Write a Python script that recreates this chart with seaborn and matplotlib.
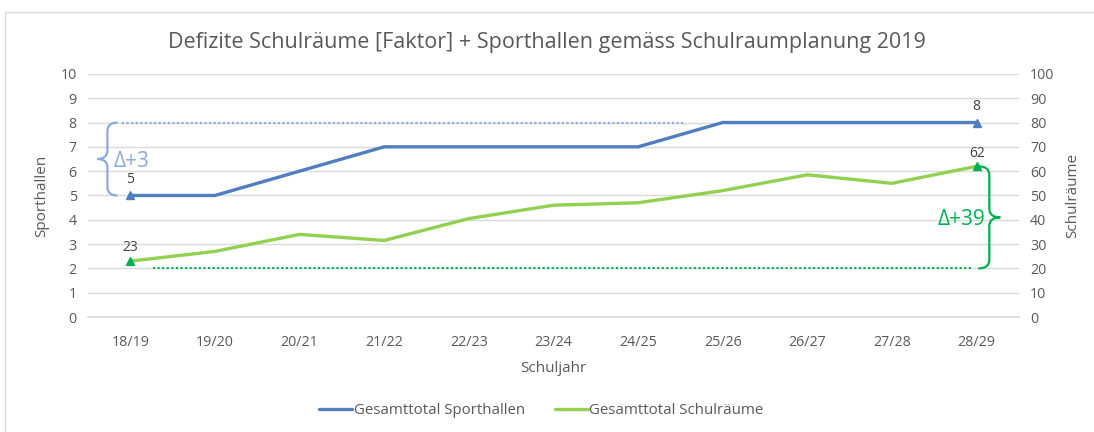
import numpy as np
import pandas as pd
import matplotlib
matplotlib.use("Agg")
import matplotlib.pyplot as plt
from matplotlib.path import Path
from matplotlib.patches import PathPatch, Rectangle
from matplotlib.lines import Line2D
import seaborn as sns

# Daten
schuljahre = ["18/19", "19/20", "20/21", "21/22", "22/23", "23/24",
              "24/25", "25/26", "26/27", "27/28", "28/29"]
sporthallen = [5, 5, 6, 7, 7, 7, 7, 8, 8, 8, 8]
schulraeume = [23, 27, 34, 31.5, 40.5, 46, 47, 52, 58.5, 55, 62]

delta_halle = (5, 8)       # Klammer links
delta_raum = (20, 62)      # Klammer rechts

BLAU = "#4F7FC0"
BLAU_HELL = "#8EA9DB"
GRUEN = "#92D050"
GRUEN_DUNKEL = "#00B050"
GRAU = "#595959"

sns.set_theme(style="white")
plt.rcParams['font.family'] = ['Open Sans', 'DejaVu Sans']

df = pd.DataFrame({"x": np.arange(len(schuljahre)),
                   "halle": sporthallen, "raum": schulraeume})

fig = plt.figure(figsize=(10.94, 4.32), dpi=100)
fig.patches.append(Rectangle((0.005, -0.01), 1.0, 0.982, transform=fig.transFigure,
                             fill=False, edgecolor="#D9D9D9", linewidth=1))
ax = fig.add_axes([0.0804, 0.266, 0.851, 0.563])
ax2 = ax.twinx()

sns.lineplot(data=df, x="x", y="halle", ax=ax, color=BLAU, linewidth=2.4)
sns.lineplot(data=df, x="x", y="raum", ax=ax2, color=GRUEN, linewidth=2.4)

# Endpunkte mit Dreiecken
ends = [0, len(schuljahre) - 1]
ax.plot(df["x"].iloc[ends], df["halle"].iloc[ends], "^", color=BLAU,
        markersize=6, linestyle="none")
ax2.plot(df["x"].iloc[ends], df["raum"].iloc[ends], "^", color=GRUEN_DUNKEL,
         markersize=6, linestyle="none")

for i in ends:
    ax.annotate(f"{sporthallen[i]:g}", (i, sporthallen[i]), xytext=(0, 9),
                textcoords="offset points", ha="center", fontsize=10, color="#404040")
    ax2.annotate(f"{schulraeume[i]:g}", (i, schulraeume[i]), xytext=(0, 7),
                 textcoords="offset points", ha="center", fontsize=10, color="#404040")

# gepunktete Referenzlinien
ax.plot([-0.1, 6.55], [delta_halle[1]] * 2, linestyle=(0, (1, 1.2)), color=BLAU_HELL, linewidth=1.5)
ax2.plot([0.27, 9.95], [delta_raum[0]] * 2, linestyle=(0, (1, 1.2)), color=GRUEN_DUNKEL, linewidth=1.5)


def klammer(achse, x_mitte, y0, y1, breite, farbe, r):
    # geschweifte Klammer; breite > 0 -> Spitze nach rechts, Enden nach links
    ym = (y0 + y1) / 2
    xe = x_mitte - breite
    xt = x_mitte + breite
    verts = [(xe, y0), (x_mitte, y0), (x_mitte, y0 + r), (x_mitte, ym - r),
             (x_mitte, ym), (xt, ym), (x_mitte, ym), (x_mitte, ym + r),
             (x_mitte, y1 - r), (x_mitte, y1), (xe, y1)]
    codes = [Path.MOVETO, Path.CURVE3, Path.CURVE3, Path.LINETO,
             Path.CURVE3, Path.CURVE3, Path.CURVE3, Path.CURVE3,
             Path.LINETO, Path.CURVE3, Path.CURVE3]
    achse.add_patch(PathPatch(Path(verts, codes), fill=False, edgecolor=farbe,
                              linewidth=1.6, clip_on=False))


klammer(ax, -0.27, delta_halle[0], delta_halle[1], -0.12, BLAU_HELL, 0.35)
klammer(ax2, 10.15, delta_raum[0], delta_raum[1], 0.13, GRUEN_DUNKEL, 3.5)
ax.text(-0.2, 6.4, "Δ+3", color=BLAU_HELL, fontsize=15, va="center", ha="left")
ax2.text(10.1, 40, "Δ+39", color=GRUEN_DUNKEL, fontsize=15, va="center", ha="right")

# Achsen
ax.set_xlim(-0.5, len(schuljahre) - 0.5)
ax.set_ylim(0, 10)
ax2.set_ylim(0, 100)
ax.set_yticks(range(0, 11))
ax2.set_yticks(range(0, 101, 10))
ax.set_xticks(df["x"])
ax.set_xticklabels(schuljahre)
ax.grid(axis="y", color="#D9D9D9", linewidth=1)
ax.set_axisbelow(True)
for a in (ax, ax2):
    for s in a.spines.values():
        s.set_visible(False)
    a.tick_params(length=0, labelsize=10.3, colors=GRAU, pad=8)
ax.spines["bottom"].set_visible(True)
ax.spines["bottom"].set_color("#D9D9D9")
ax.tick_params(axis="x", pad=13)

ax.set_xlabel("Schuljahr", fontsize=11, color=GRAU, labelpad=8)
ax.set_ylabel("Sporthallen", fontsize=11, color=GRAU, labelpad=8)
ax2.set_ylabel("Schulräume", fontsize=11, color=GRAU, labelpad=8)

fig.suptitle("Defizite Schulräume [Faktor] + Sporthallen gemäss Schulraumplanung 2019",
             y=0.925, fontsize=15.5, color=GRAU)

handles = [Line2D([], [], color=BLAU, linewidth=2.4),
           Line2D([], [], color=GRUEN, linewidth=2.4)]
fig.legend(handles, ["Gesamttotal Sporthallen", "Gesamttotal Schulräume"],
           loc="center", bbox_to_anchor=(0.495, 0.05), ncol=2, frameon=False,
           fontsize=10.8, labelcolor=GRAU, handlelength=2.2, handletextpad=0.1,
           columnspacing=2.0)

fig.savefig("out.png", dpi=100)
